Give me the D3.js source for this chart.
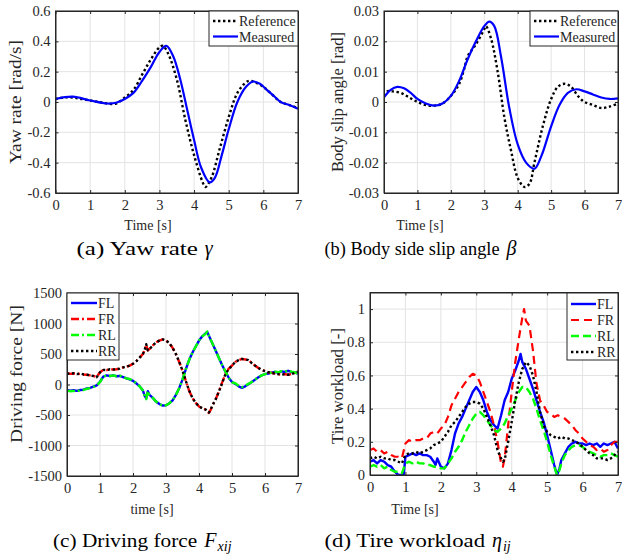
<!DOCTYPE html>
<html><head><meta charset="utf-8">
<script src="https://cdn.jsdelivr.net/npm/d3@7"></script>
<style>body{margin:0;background:#fff} svg{display:block}</style>
</head><body><svg id="c" width="622" height="557" font-family="'Liberation Serif'"></svg>
<script>
// ---------- data ----------
const timeTicks = [0,1,2,3,4,5,6,7];
const yawTicks = [-0.6,-0.4,-0.2,0,0.2,0.4,0.6];
const slipTicks = [-0.03,-0.02,-0.01,0,0.01,0.02,0.03];
const forceTicks = [-1500,-1000,-500,0,500,1000,1500];
const loadTicks = [0,0.2,0.4,0.6,0.8,1];

const yawReference = [[0,0.02],[0.25,0.03],[0.5,0.03],[0.75,0.02],[1.0,0.01],[1.25,0.0],[1.5,-0.01],[1.75,-0.01],[2.0,0.03],[2.25,0.08],[2.5,0.18],[2.75,0.28],[3.0,0.36],[3.1,0.37],[3.25,0.32],[3.5,0.15],[3.75,-0.12],[4.0,-0.35],[4.25,-0.53],[4.33,-0.56],[4.5,-0.5],[4.75,-0.3],[5.0,-0.1],[5.25,0.06],[5.5,0.13],[5.6,0.14],[5.75,0.13],[6.0,0.1],[6.25,0.05],[6.5,0.0],[6.75,-0.02],[7.0,-0.04]];
const yawMeasured = [[0,0.02],[0.5,0.035],[1.0,0.01],[1.5,-0.01],[1.75,-0.005],[2.0,0.02],[2.25,0.06],[2.5,0.14],[2.75,0.23],[3.0,0.33],[3.2,0.37],[3.4,0.3],[3.6,0.15],[3.8,-0.05],[4.0,-0.25],[4.2,-0.43],[4.45,-0.53],[4.6,-0.5],[4.8,-0.35],[5.0,-0.18],[5.25,0.0],[5.5,0.1],[5.7,0.135],[5.9,0.12],[6.1,0.08],[6.3,0.04],[6.5,0.0],[6.75,-0.02],[7.0,-0.045]];

const slipReference = [[0,0.002],[0.1,0.0035],[0.25,0.0035],[0.5,0.003],[0.75,0.0015],[1.0,0.0],[1.25,-0.001],[1.5,-0.0012],[1.75,-0.0005],[2.0,0.002],[2.25,0.006],[2.4,0.011],[2.5,0.015],[2.75,0.019],[3.0,0.024],[3.05,0.025],[3.2,0.021],[3.4,0.01],[3.6,-0.005],[3.8,-0.016],[4.0,-0.025],[4.2,-0.028],[4.35,-0.027],[4.5,-0.02],[4.75,-0.008],[5.0,0.001],[5.2,0.005],[5.4,0.006],[5.6,0.005],[5.8,0.002],[6.0,0.0],[6.25,-0.001],[6.5,-0.002],[6.75,-0.0015],[7.0,-0.0005]];
const slipMeasured = [[0,0.0015],[0.2,0.004],[0.4,0.005],[0.6,0.0045],[0.8,0.003],[1.0,0.001],[1.25,-0.0005],[1.5,-0.0012],[1.75,-0.0005],[2.0,0.002],[2.25,0.007],[2.5,0.014],[2.75,0.02],[3.0,0.025],[3.15,0.0265],[3.3,0.025],[3.5,0.015],[3.75,-0.002],[4.0,-0.014],[4.25,-0.02],[4.5,-0.022],[4.7,-0.018],[5.0,-0.008],[5.25,-0.001],[5.5,0.003],[5.75,0.0042],[6.0,0.0035],[6.25,0.0025],[6.5,0.0015],[6.75,0.001],[7.0,0.0012]];

const forceFL = [[0,-90],[0.1,-100],[0.2,-95],[0.3,-105],[0.4,-90],[0.5,-85],[0.6,-65],[0.7,-55],[0.8,-35],[0.9,-15],[1.0,45],[1.1,130],[1.2,150],[1.3,140],[1.4,150],[1.5,135],[1.6,140],[1.7,120],[1.8,100],[1.9,85],[2.0,60],[2.1,20],[2.2,-30],[2.3,-100],[2.35,-180],[2.4,-230],[2.45,-110],[2.5,-170],[2.6,-220],[2.7,-280],[2.8,-320],[2.9,-345],[3.0,-340],[3.1,-310],[3.2,-260],[3.3,-170],[3.4,-60],[3.5,80],[3.6,250],[3.7,400],[3.8,520],[3.9,620],[4.0,720],[4.1,790],[4.2,840],[4.25,860],[4.3,800],[4.4,680],[4.5,560],[4.6,440],[4.7,320],[4.8,210],[4.9,110],[5.0,40],[5.1,10],[5.2,-30],[5.3,-55],[5.4,-30],[5.5,5],[5.6,40],[5.7,80],[5.8,120],[5.9,150],[6.0,170],[6.1,180],[6.2,195],[6.3,205],[6.4,200],[6.5,215],[6.6,205],[6.7,225],[6.8,205],[6.9,195],[7.0,180]];
const forceFR = [[0,185],[0.1,175],[0.2,180],[0.3,170],[0.4,180],[0.5,165],[0.6,160],[0.7,150],[0.8,140],[0.9,125],[1.0,200],[1.1,240],[1.2,235],[1.3,250],[1.4,245],[1.5,250],[1.6,260],[1.7,280],[1.8,290],[1.9,310],[2.0,340],[2.1,380],[2.2,440],[2.3,500],[2.35,560],[2.4,650],[2.45,560],[2.5,580],[2.6,640],[2.7,690],[2.8,720],[2.9,740],[3.0,720],[3.1,680],[3.2,600],[3.3,500],[3.4,370],[3.5,230],[3.6,60],[3.7,-100],[3.8,-220],[3.9,-300],[4.0,-360],[4.1,-390],[4.2,-410],[4.3,-465],[4.35,-420],[4.4,-350],[4.5,-250],[4.6,-120],[4.7,30],[4.8,170],[4.9,260],[5.0,310],[5.1,370],[5.2,400],[5.3,420],[5.4,410],[5.5,400],[5.6,350],[5.7,310],[5.8,270],[5.9,240],[6.0,220],[6.1,200],[6.2,190],[6.3,180],[6.4,170],[6.5,160],[6.6,170],[6.7,160],[6.8,170],[6.9,190],[7.0,210]];
const forceRL = [[0,-100],[0.1,-110],[0.2,-105],[0.3,-115],[0.4,-95],[0.5,-90],[0.6,-70],[0.7,-60],[0.8,-40],[0.9,-20],[1.0,40],[1.1,130],[1.2,150],[1.3,140],[1.4,150],[1.5,135],[1.6,145],[1.7,120],[1.8,100],[1.9,90],[2.0,60],[2.1,20],[2.2,-30],[2.3,-100],[2.35,-180],[2.4,-240],[2.45,-110],[2.5,-170],[2.6,-220],[2.7,-280],[2.8,-320],[2.9,-350],[3.0,-340],[3.1,-310],[3.2,-260],[3.3,-170],[3.4,-60],[3.5,80],[3.6,250],[3.7,400],[3.8,520],[3.9,620],[4.0,720],[4.1,790],[4.2,830],[4.25,870],[4.3,800],[4.4,680],[4.5,560],[4.6,440],[4.7,320],[4.8,215],[4.9,110],[5.0,35],[5.1,20],[5.2,-20],[5.3,-45],[5.4,-20],[5.5,10],[5.6,40],[5.7,80],[5.8,120],[5.9,150],[6.0,170],[6.1,180],[6.2,200],[6.3,210],[6.4,200],[6.5,220],[6.6,210],[6.7,230],[6.8,210],[6.9,200],[7.0,180]];
const forceRR = [[0,180],[0.1,175],[0.2,185],[0.3,170],[0.4,180],[0.5,165],[0.6,160],[0.7,150],[0.8,140],[0.9,120],[1.0,200],[1.1,240],[1.2,235],[1.3,250],[1.4,245],[1.5,250],[1.6,260],[1.7,280],[1.8,290],[1.9,310],[2.0,340],[2.1,380],[2.2,440],[2.3,500],[2.35,560],[2.4,660],[2.45,560],[2.5,580],[2.6,640],[2.7,690],[2.8,720],[2.9,740],[3.0,720],[3.1,680],[3.2,600],[3.3,500],[3.4,370],[3.5,230],[3.6,60],[3.7,-100],[3.8,-220],[3.9,-300],[4.0,-360],[4.1,-390],[4.2,-410],[4.3,-460],[4.35,-420],[4.4,-350],[4.5,-250],[4.6,-120],[4.7,20],[4.8,170],[4.9,250],[5.0,310],[5.1,370],[5.2,400],[5.3,420],[5.4,410],[5.5,400],[5.6,350],[5.7,310],[5.8,270],[5.9,240],[6.0,220],[6.1,200],[6.2,190],[6.3,180],[6.4,170],[6.5,160],[6.6,170],[6.7,160],[6.8,170],[6.9,190],[7.0,210]];

const loadFL = [[0,.08],[.1,.09],[.2,.07],[.3,.09],[.4,.08],[.5,.06],[.6,.05],[.7,.02],[.8,0],[.9,0],[.95,0],[1.0,.11],[1.1,.12],[1.2,.13],[1.3,.12],[1.4,.13],[1.5,.12],[1.6,.12],[1.7,.11],[1.8,.08],[1.85,.06],[1.9,.1],[2.0,.05],[2.1,.04],[2.2,.07],[2.3,.15],[2.4,.25],[2.5,.31],[2.6,.35],[2.7,.4],[2.8,.45],[2.9,.5],[3.0,.53],[3.1,.5],[3.2,.45],[3.3,.38],[3.4,.33],[3.5,.3],[3.6,.28],[3.7,.36],[3.8,.45],[3.9,.5],[4.0,.58],[4.1,.63],[4.2,.69],[4.25,.73],[4.3,.68],[4.4,.64],[4.5,.58],[4.6,.52],[4.7,.45],[4.8,.38],[4.9,.32],[5.0,.24],[5.1,.15],[5.2,.06],[5.28,0],[5.35,.04],[5.4,.09],[5.5,.13],[5.6,.17],[5.7,.19],[5.8,.2],[5.9,.19],[6.0,.19],[6.1,.18],[6.2,.19],[6.3,.18],[6.4,.19],[6.5,.17],[6.6,.19],[6.7,.18],[6.8,.19],[6.9,.2],[7.0,.16]];
const loadFR = [[0,.15],[.1,.16],[.2,.14],[.3,.15],[.4,.13],[.5,.14],[.6,.12],[.7,.11],[.8,.11],[.9,.1],[1.0,.19],[1.1,.21],[1.2,.2],[1.3,.21],[1.4,.21],[1.5,.22],[1.6,.22],[1.7,.25],[1.8,.26],[1.9,.25],[2.0,.28],[2.1,.3],[2.2,.35],[2.3,.42],[2.4,.46],[2.5,.5],[2.6,.53],[2.7,.56],[2.8,.59],[2.9,.61],[3.0,.6],[3.1,.56],[3.2,.5],[3.3,.44],[3.4,.38],[3.5,.3],[3.6,.2],[3.7,.07],[3.75,.05],[3.8,.1],[3.9,.3],[4.0,.5],[4.1,.68],[4.2,.82],[4.3,.95],[4.35,1.0],[4.4,.93],[4.5,.9],[4.6,.75],[4.7,.55],[4.8,.45],[4.9,.42],[5.0,.38],[5.1,.37],[5.2,.35],[5.3,.36],[5.4,.35],[5.5,.34],[5.6,.32],[5.7,.3],[5.8,.27],[5.9,.25],[6.0,.22],[6.1,.2],[6.2,.18],[6.3,.17],[6.4,.15],[6.5,.16],[6.6,.14],[6.7,.15],[6.8,.18],[6.9,.2],[7.0,.2]];
const loadRL = [[0,.05],[.1,.06],[.2,.05],[.3,.06],[.4,.04],[.5,.05],[.6,.03],[.7,.02],[.8,.02],[.9,.01],[1.0,.07],[1.1,.08],[1.2,.07],[1.3,.08],[1.4,.07],[1.5,.07],[1.6,.06],[1.7,.06],[1.8,.05],[1.9,.05],[2.0,.04],[2.1,.04],[2.2,.07],[2.3,.1],[2.4,.14],[2.5,.17],[2.6,.21],[2.7,.26],[2.8,.3],[2.9,.34],[3.0,.37],[3.1,.38],[3.2,.36],[3.3,.33],[3.4,.3],[3.5,.27],[3.6,.26],[3.7,.28],[3.8,.31],[3.9,.36],[4.0,.4],[4.1,.45],[4.2,.5],[4.3,.53],[4.4,.53],[4.5,.5],[4.6,.46],[4.7,.4],[4.8,.33],[4.9,.27],[5.0,.2],[5.1,.12],[5.2,.05],[5.28,0],[5.35,.03],[5.4,.07],[5.5,.12],[5.6,.15],[5.7,.17],[5.8,.18],[5.9,.18],[6.0,.17],[6.1,.15],[6.2,.14],[6.3,.13],[6.4,.12],[6.5,.11],[6.6,.12],[6.7,.12],[6.8,.13],[6.9,.12],[7.0,.11]];
const loadRR = [[0,.1],[.1,.11],[.2,.1],[.3,.11],[.4,.1],[.5,.1],[.6,.09],[.7,.09],[.8,.08],[.9,.07],[1.0,.12],[1.1,.13],[1.2,.13],[1.3,.14],[1.4,.13],[1.5,.14],[1.6,.15],[1.7,.16],[1.8,.18],[1.9,.19],[2.0,.2],[2.1,.23],[2.2,.26],[2.3,.3],[2.4,.32],[2.5,.35],[2.6,.38],[2.7,.41],[2.8,.43],[2.9,.44],[3.0,.44],[3.1,.43],[3.2,.4],[3.3,.35],[3.4,.3],[3.5,.24],[3.6,.15],[3.7,.1],[3.75,.08],[3.8,.09],[3.9,.2],[4.0,.32],[4.1,.45],[4.2,.56],[4.3,.64],[4.4,.68],[4.5,.66],[4.6,.6],[4.7,.5],[4.8,.38],[4.9,.3],[5.0,.26],[5.1,.24],[5.2,.23],[5.3,.22],[5.4,.23],[5.5,.22],[5.6,.22],[5.7,.21],[5.8,.2],[5.9,.19],[6.0,.17],[6.1,.15],[6.2,.13],[6.3,.12],[6.4,.1],[6.5,.1],[6.6,.1],[6.7,.09],[6.8,.1],[6.9,.12],[7.0,.14]];

// ---------- drawing ----------
const svg = d3.select('#c');
const TXT = '#262626';
const FONT = "'Liberation Serif', 'Times New Roman', serif";
const fmt = v => String(+v.toFixed(4));

const styles = {
  refDot:  {stroke:'#000', w:2.4, dash:'2.4,2.6'},
  meas:    {stroke:'#0000ff', w:2.2, dash:null},
  fl:      {stroke:'#0000ff', w:2.4, dash:null},
  frDD:    {stroke:'#ff0000', w:2.4, dash:'8,3,2,3'},
  rlDD:    {stroke:'#00ff00', w:2.4, dash:'8,3,2,3'},
  rrDot:   {stroke:'#000', w:2.4, dash:'2.4,2.6'},
  frDash:  {stroke:'#ff0000', w:2.2, dash:'8,5'},
  rlDash:  {stroke:'#00ff00', w:2.4, dash:'8,4'}
};

function txt(sel, size){
  return sel.attr('font-family',FONT).style('font-family',FONT).style('font-size',size+'px').attr('fill',TXT);
}

let clipId = 0;
function panel(cfg){
  const g = svg.append('g');
  const x = d3.scaleLinear().domain([0,7]).range([cfg.l,cfg.r]);
  const y = d3.scaleLinear().domain(cfg.yd).range([cfg.b,cfg.t]);
  g.selectAll(null).data(timeTicks).join('line')
    .attr('x1',d=>x(d)).attr('x2',d=>x(d)).attr('y1',cfg.t).attr('y2',cfg.b)
    .attr('stroke','#e3e3e3').attr('stroke-width',1);
  g.selectAll(null).data(cfg.ticks).join('line')
    .attr('y1',d=>y(d)).attr('y2',d=>y(d)).attr('x1',cfg.l).attr('x2',cfg.r)
    .attr('stroke','#e3e3e3').attr('stroke-width',1);
  const id = 'clip'+(clipId++);
  svg.append('clipPath').attr('id',id).append('rect')
    .attr('x',cfg.l).attr('y',cfg.t).attr('width',cfg.r-cfg.l).attr('height',cfg.b-cfg.t);
  const sg = g.append('g').attr('clip-path',`url(#${id})`);
  cfg.series.forEach(s=>{
    const line = d3.line().x(d=>x(d[0])).y(d=>y(d[1])).curve(cfg.curve || d3.curveLinear);
    sg.append('path').datum(s.data).attr('d',line)
      .attr('fill','none').attr('stroke',s.st.stroke).attr('stroke-width',s.st.w)
      .attr('stroke-dasharray',s.st.dash).attr('stroke-linejoin','round');
  });
  const axes = g.append('g');
  axes.append('g').attr('transform',`translate(0,${cfg.b})`)
    .call(d3.axisBottom(x).tickValues(timeTicks).tickFormat(fmt).tickSizeInner(-3).tickSizeOuter(0).tickPadding(7));
  axes.append('g').attr('transform',`translate(${cfg.l},0)`)
    .call(d3.axisLeft(y).tickValues(cfg.ticks).tickFormat(fmt).tickSizeInner(-3).tickSizeOuter(0).tickPadding(5));
  axes.append('g').attr('transform',`translate(0,${cfg.t})`)
    .call(d3.axisTop(x).tickValues(timeTicks).tickFormat('').tickSizeInner(-3).tickSizeOuter(0));
  axes.append('g').attr('transform',`translate(${cfg.r},0)`)
    .call(d3.axisRight(y).tickValues(cfg.ticks).tickFormat('').tickSizeInner(-3).tickSizeOuter(0));
  axes.selectAll('g').attr('font-family',FONT);
  axes.selectAll('.domain').attr('stroke',TXT);
  axes.selectAll('.tick line').attr('stroke',TXT);
  txt(axes.selectAll('.tick text'),14.5);
  g.append('rect').attr('x',cfg.l).attr('y',cfg.t).attr('width',cfg.r-cfg.l).attr('height',cfg.b-cfg.t)
    .attr('fill','none').attr('stroke',TXT).attr('stroke-width',1);
  txt(g.append('text').attr('x',cfg.xtx).attr('y',cfg.xty).attr('text-anchor','middle'),14).text(cfg.xTitle);
  txt(g.append('text').attr('transform',`translate(${cfg.ytx},${cfg.ytc})rotate(-90)`)
    .attr('text-anchor','middle').attr('textLength',cfg.ylen).attr('lengthAdjust','spacingAndGlyphs'),17).text(cfg.yTitle);
  const L = cfg.legend;
  const lg = g.append('g');
  lg.append('rect').attr('x',L.x).attr('y',L.y).attr('width',L.w).attr('height',L.h)
    .attr('fill','#fff').attr('stroke',TXT).attr('stroke-width',1);
  cfg.series.forEach((s,i)=>{
    const yy = L.y + L.row0 + i*L.dy;
    lg.append('line').attr('x1',L.x+L.s0).attr('x2',L.x+L.s1).attr('y1',yy).attr('y2',yy)
      .attr('stroke',s.st.stroke).attr('stroke-width',s.st.w).attr('stroke-dasharray',s.st.dash);
    txt(lg.append('text').attr('x',L.x+L.s1+1).attr('y',yy+5),14).text(s.name);
  });
}

panel({l:55.5,r:298,t:11,b:193,yd:[-0.6,0.6],ticks:yawTicks,curve:d3.curveCatmullRom,
  xTitle:'Time [s]',xtx:148,xty:230,yTitle:'Yaw rate [rad/s]',ytx:21,ytc:102,ylen:124,
  series:[{name:'Reference',data:yawReference,st:styles.refDot},{name:'Measured',data:yawMeasured,st:styles.meas}],
  legend:{x:209,y:11,w:89,h:35,row0:10,dy:15.5,s0:4,s1:29}});
panel({l:384,r:618,t:11,b:193,yd:[-0.03,0.03],ticks:slipTicks,curve:d3.curveCatmullRom,
  xTitle:'Time [s]',xtx:420,xty:230,yTitle:'Body slip angle [rad]',ytx:343,ytc:102,ylen:140,
  series:[{name:'Reference',data:slipReference,st:styles.refDot},{name:'Measured',data:slipMeasured,st:styles.meas}],
  legend:{x:530,y:11,w:88,h:35,row0:10,dy:15.5,s0:4,s1:29}});
panel({l:67,r:298,t:293,b:476,yd:[-1500,1500],ticks:forceTicks,
  xTitle:'time [s]',xtx:152,xty:514,yTitle:'Driving force [N]',ytx:22,ytc:374,ylen:138,
  series:[{name:'FL',data:forceFL,st:styles.fl},{name:'FR',data:forceFR,st:styles.frDD},
          {name:'RL',data:forceRL,st:styles.rlDD},{name:'RR',data:forceRR,st:styles.rrDot}],
  legend:{x:67,y:293,w:52,h:67,row0:10,dy:16,s0:4,s1:30}});
panel({l:370,r:618,t:292.5,b:475,yd:[0,1.1],ticks:loadTicks,
  xTitle:'Time [s]',xtx:415,xty:514,yTitle:'Tire workload [-]',ytx:343,ytc:386,ylen:116,
  series:[{name:'FL',data:loadFL,st:styles.fl},{name:'FR',data:loadFR,st:styles.frDash},
          {name:'RL',data:loadRL,st:styles.rlDash},{name:'RR',data:loadRR,st:styles.rrDot}],
  legend:{x:567,y:293,w:51,h:67,row0:11,dy:16,s0:4,s1:29}});

// captions: upright words + italic math symbol (+ optional italic subscript)
function caption(cx, by, w, main, sym, sub){
  const x0 = cx - w/2, gap = 7;
  const symT = svg.append('text').attr('y',by).attr('fill','#000')
    .attr('font-family',FONT).style('font-family',FONT).style('font-size','20px').style('font-style','italic').text(sym);
  const sw = symT.node().getComputedTextLength()*1.1;
  let subT = null, subw = 0;
  if(sub){
    subT = svg.append('text').attr('y',by+4).attr('fill','#000')
      .attr('font-family',FONT).style('font-family',FONT).style('font-size','14px').style('font-style','italic').text(sub);
    subw = subT.node().getComputedTextLength()*1.1;
  }
  const mw = w - sw - subw - gap;
  svg.append('text').attr('x',x0).attr('y',by).attr('fill','#000')
    .attr('font-family',FONT).style('font-family',FONT).style('font-size','19px')
    .attr('textLength',mw).attr('lengthAdjust','spacingAndGlyphs').text(main);
  symT.attr('x',x0+mw+gap);
  if(subT) subT.attr('x',x0+mw+gap+sw);
}
caption(145,255,137,'(a) Yaw rate','\u03b3');
caption(421,255,193,'(b) Body side slip angle','\u03b2');
caption(143,547,180,'(c) Driving force','F','xij');
caption(418,547,187,'(d) Tire workload','\u03b7','ij');
</script></body></html>
